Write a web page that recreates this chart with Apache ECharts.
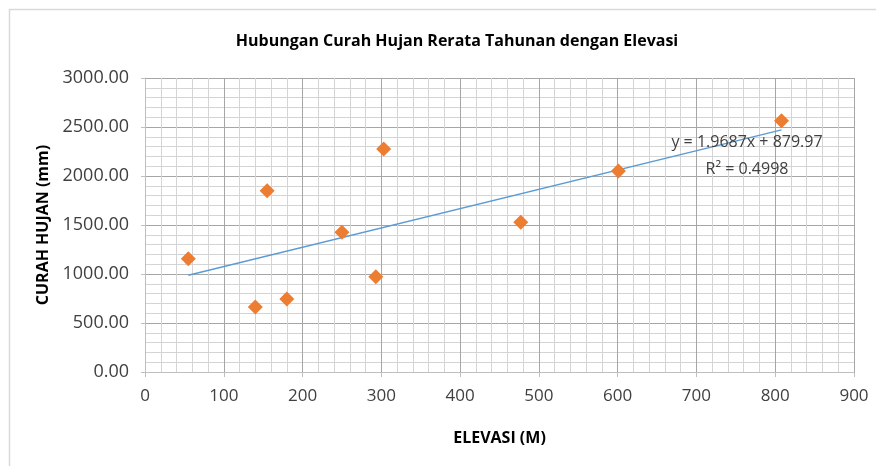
<!DOCTYPE html>
<html>
<head>
    <meta charset="UTF-8">
    <title>Hubungan Curah Hujan Rerata Tahunan dengan Elevasi</title>
    <script src="https://cdn.jsdelivr.net/npm/echarts@6/dist/echarts.min.js"></script>
    <style>
        body { margin: 0; background: #fff; }
    </style>
</head>
<body>
    <div id="chart" style="width: 876px;height:466px;"></div>
    <script type="text/javascript">
        // Elevasi (m) and curah hujan (mm)
        var elevasi = [55, 140, 155, 180, 250, 293, 303, 477, 601, 808];
        var curahHujan = [1156, 663, 1850, 745, 1425, 972, 2275, 1527, 2051, 2564];

        // Linear trendline as printed on the chart
        var slope = 1.9687;
        var intercept = 879.97;
        var r2 = 0.4998;

        var points = elevasi.map(function (x, i) { return [x, curahHujan[i]]; });
        var xMin = Math.min.apply(null, elevasi);
        var xMax = Math.max.apply(null, elevasi);
        var trend = [[xMin, slope * xMin + intercept], [xMax, slope * xMax + intercept]];

        var myChart = echarts.init(document.getElementById('chart'));

        var font = '"Open Sans", sans-serif';

        var option = {
            backgroundColor: '#fff',
            animation: false,
            title: {
                text: 'Hubungan Curah Hujan Rerata Tahunan dengan Elevasi',
                left: 452,
                textAlign: 'center',
                top: 28,
                textStyle: { fontFamily: font, fontSize: 16, fontWeight: 'bold', color: '#000' }
            },
            grid: { left: 145, right: 22, top: 78, bottom: 94 },
            xAxis: {
                type: 'value',
                min: 0, max: 900, interval: 100,
                name: 'ELEVASI (M)',
                nameLocation: 'middle',
                nameGap: 58,
                nameTextStyle: { fontFamily: font, fontSize: 16, fontWeight: 'bold', color: '#000' },
                axisLine: { show: true, lineStyle: { color: '#bfbfbf', width: 1 } },
                axisTick: { show: true, length: 5, lineStyle: { color: '#bfbfbf' } },
                axisLabel: { fontFamily: font, fontSize: 17, color: '#404040', margin: 16 },
                splitLine: { show: true, lineStyle: { color: '#a6a6a6', width: 1 } },
                minorTick: { show: false, splitNumber: 5 },
                minorSplitLine: { show: true, lineStyle: { color: '#d4d4d4', width: 1 } }
            },
            yAxis: {
                type: 'value',
                min: 0, max: 3000, interval: 500,
                name: 'CURAH HUJAN (mm)',
                nameLocation: 'middle',
                nameGap: 92,
                nameTextStyle: { fontFamily: font, fontSize: 16, fontWeight: 'bold', color: '#000' },
                axisLine: { show: true, lineStyle: { color: '#bfbfbf', width: 1 } },
                axisTick: { show: true, length: 4, lineStyle: { color: '#bfbfbf' } },
                axisLabel: {
                    fontFamily: font, fontSize: 18, color: '#404040', margin: 16,
                    formatter: function (value) { return value.toFixed(2); }
                },
                splitLine: { show: true, lineStyle: { color: '#a6a6a6', width: 1 } },
                minorTick: { show: false, splitNumber: 5 },
                minorSplitLine: { show: true, lineStyle: { color: '#d4d4d4', width: 1 } }
            },
            series: [
                {
                    name: 'Trendline',
                    type: 'line',
                    data: trend,
                    symbol: 'none',
                    lineStyle: { color: '#5b9bd5', width: 1.5 },
                    z: 3
                },
                {
                    name: 'Curah Hujan',
                    type: 'scatter',
                    data: points,
                    symbol: 'diamond',
                    symbolSize: 15,
                    itemStyle: { color: '#ed7d31', opacity: 1 },
                    z: 4
                }
            ],
            graphic: [
                {
                    type: 'rect',
                    shape: { x: 9.5, y: 9.5, width: 900, height: 500 },
                    style: { fill: 'none', stroke: '#d9d9d9', lineWidth: 1.5 },
                    silent: true
                },
                {
                    type: 'text',
                    x: 747, y: 142,
                    style: {
                        text: 'y = ' + slope + 'x + ' + intercept,
                        font: '16px "Open Sans", sans-serif',
                        fill: '#404040', align: 'center', verticalAlign: 'middle'
                    },
                    z: 10
                },
                {
                    type: 'text',
                    x: 747, y: 169,
                    style: {
                        text: 'R\u00b2 = ' + r2,
                        font: '16px "Open Sans", sans-serif',
                        fill: '#404040', align: 'center', verticalAlign: 'middle'
                    },
                    z: 10
                }
            ]
        };

        myChart.setOption(option);
    </script>
</body>
</html>
